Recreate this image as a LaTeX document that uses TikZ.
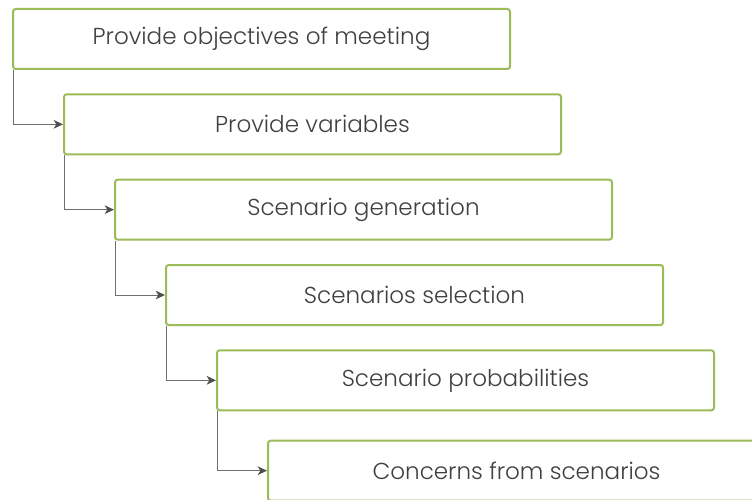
\documentclass[tikz,border=0pt]{standalone}
\usepackage{fontspec}
\setmainfont{Poppins Light}
\usepackage{tikz}
\usetikzlibrary{arrows.meta,positioning}
\definecolor{StepGreen}{HTML}{9BBB59}
\definecolor{StepText}{HTML}{404040}
\definecolor{StepLine}{HTML}{6F6F6F}
\definecolor{StepTip}{HTML}{505050}

\begin{document}
\begin{tikzpicture}[node distance=17.5pt]
    \tikzset{meetstep/.style={rounded corners=2pt,draw=StepGreen,line width=1.5pt,fill=white,
      minimum width=372.75pt,minimum height=45pt,align=center,text=StepText,
      font=\fontsize{17.3}{20}\selectfont,inner sep=0pt},
      below step/.style={below=of #1.south west,anchor=north west,xshift=38.25pt},
      steparrow/.style={-{Stealth[length=7pt,width=6.5pt,inset=2pt,color=StepTip]},StepLine,line width=0.75pt}}
    \useasboundingbox (0,0) rectangle (564pt,-374.25pt);
    \node[meetstep,anchor=north west] (obj) at (9pt,-6pt) {Provide objectives of meeting};
    \node[meetstep,below step=obj] (var) {Provide variables};
    \node[meetstep,below step=var] (gen) {Scenario generation};
    \node[meetstep,below step=gen] (sel) {Scenarios selection};
    \node[meetstep,below step=sel] (prob) {Scenario probabilities};
    \node[meetstep,below step=prob,yshift=-3.75pt] (conc) {Concerns from scenarios};
    \draw[steparrow] ([xshift=1pt]obj.south west) |- (var.west);
    \draw[steparrow] ([xshift=1pt]var.south west) |- (gen.west);
    \draw[steparrow] ([xshift=1pt]gen.south west) |- (sel.west);
    \draw[steparrow] ([xshift=1pt]sel.south west) |- (prob.west);
    \draw[steparrow] ([xshift=1pt]prob.south west) |- (conc.west);
  \end{tikzpicture}
\end{document}
